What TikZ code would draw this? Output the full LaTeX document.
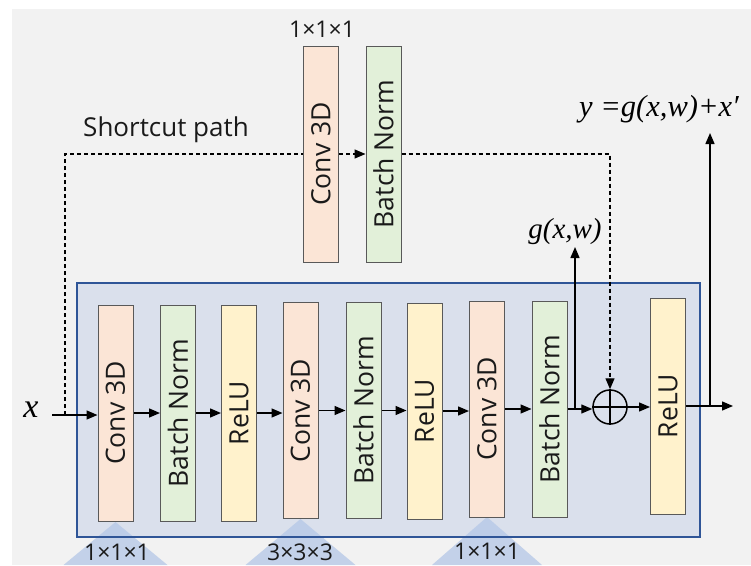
\documentclass[tikz,border=0pt]{standalone}
\usepackage{fontspec}
\usepackage{graphicx}
\setmainfont{Open Sans}
\newfontfamily\tnr{Liberation Serif}
\usetikzlibrary{arrows.meta}
\definecolor{bgc}{HTML}{F2F2F2}
\definecolor{boxf}{HTML}{DAE0EC}
\definecolor{boxb}{HTML}{2F5597}
\definecolor{convc}{HTML}{FBE5D6}
\definecolor{bnc}{HTML}{E2F0D9}
\definecolor{reluc}{HTML}{FFF2CC}
\definecolor{blkb}{HTML}{595959}
\definecolor{tric}{HTML}{B4C7E7}
\definecolor{txt}{HTML}{1A1A1A}
\tikzset{
  blk/.style={draw=blkb, line width=1pt, minimum width=35, minimum height=216, inner sep=0, text=txt,
    font=\fontsize{26.5}{30}\selectfont},
  conv/.style={blk, fill=convc},
  bn/.style={blk, fill=bnc},
  relu/.style={blk, fill=reluc},
  arr/.style={-{Triangle[length=11pt,width=9pt]}, line width=1.4pt},
  dsh/.style={dash pattern=on 4pt off 3pt, line width=1.3pt},
  tri/.style={fill=tric, opacity=0.75},
  lab/.style={inner sep=0, text=txt, font=\fontsize{23}{26}\selectfont},
  mth/.style={inner sep=0, font=\tnr\itshape\fontsize{29}{32}\selectfont}
}
\begin{document}
\begin{tikzpicture}[x=1pt,y=-1pt]
\useasboundingbox (0,0) rectangle (751,565);
\fill[bgc] (12,9) rectangle (751,565);
% container
\node[fill=boxf, minimum width=623, minimum height=254, inner sep=0] (box) at (388.5,410) {};
% kernel triangles
\fill[tri] (115.5,522) -- (63.5,565) -- (167.5,565) -- cycle;
\fill[tri] (300.5,519) -- (245.5,565) -- (355.5,565) -- cycle;
\fill[tri] (487,517) -- (432,565) -- (542,565) -- cycle;
\draw[boxb, line width=1.5pt] (box.north west) rectangle (box.south east);
% main blocks
\node[conv] (b1) at (115.5,413) {\rotatebox{90}{Conv 3D}};
\node[bn]   (b2) at (178,413)   {\rotatebox{90}{Batch Norm}};
\node[relu] (b3) at (239,413)   {\rotatebox{90}{ReLU}};
\node[conv] (b4) at (300.5,410.5) {\rotatebox{90}{Conv 3D}};
\node[bn]   (b5) at (363.5,410.5) {\rotatebox{90}{Batch Norm}};
\node[relu] (b6) at (424.5,411) {\rotatebox{90}{ReLU}};
\node[conv] (b7) at (487,409)   {\rotatebox{90}{Conv 3D}};
\node[bn]   (b8) at (549.5,409) {\rotatebox{90}{Batch Norm}};
\node[relu] (b9) at (668,406)   {\rotatebox{90}{ReLU}};
% shortcut blocks
\node[conv] (c) at (321,154) {\rotatebox{90}{Conv 3D}};
\node[bn]   (n) at (383.5,154) {\rotatebox{90}{Batch Norm}};
% adder
\node[circle, draw, line width=1.5pt, minimum size=34, inner sep=0] (plus) at (610,407) {};
\draw[line width=1.5pt] (plus.north) -- (plus.south) (plus.west) -- (plus.east);
% labels
\node[lab] (k0) at (322,29) {1×1×1};
\node[lab] (k1) at (117,552) {1×1×1};
\node[lab] (k2) at (300,552) {3×3×3};
\node[lab] (k3) at (487,551) {1×1×1};
\node[inner sep=0, text=txt, font=\fontsize{26}{30}\selectfont] (sc) at (166,130) {Shortcut path};
\node[mth] (xl) at (31,410) {\fontsize{34}{36}\selectfont x};
\node[mth] (gl) at (565,232) {g(x,w)};
\node[mth, font=\tnr\itshape\fontsize{30.5}{33}\selectfont] (yl) at (659,109) {y =g(x,w)+x′};
% coordinates
\coordinate (xs) at (52,415);
\coordinate (sp) at (65,415);
\coordinate (gb) at (575,409);
\coordinate (gt) at (575,247);
\coordinate (out) at (733,406);
\coordinate (ob) at (710,406);
\coordinate (ot) at (710,133);
% main flow
\draw[arr] (xs) -- (xs -| b1.west);
\draw[arr] (b1.east) -- (b1.east -| b2.west);
\draw[arr] (b2.east) -- (b2.east -| b3.west);
\draw[arr] (b3.east) -- (b3.east -| b4.west);
\draw[arr] (b4.east) -- (b4.east -| b5.west);
\draw[arr] (b5.east) -- (b5.east -| b6.west);
\draw[arr] (b6.east) -- (b6.east -| b7.west);
\draw[arr] (b7.east) -- (b7.east -| b8.west);
\draw[arr] (b8.east) -- (b8.east -| plus.west);
\draw[arr] (plus.east) -- (plus.east -| b9.west);
\draw[arr] (b9.east) -- (out);
\draw[arr] (gb) -- (gt);
\draw[arr] (ob) -- (ot);
% shortcut
\draw[dsh] (sp) |- (c.west);
\draw[dsh, -{Triangle[length=11pt,width=9pt]}] (c.east) -- (n.west);
\draw[dsh, -{Triangle[length=11pt,width=9pt]}] (n.east) -| (plus.north);
\end{tikzpicture}
\end{document}
